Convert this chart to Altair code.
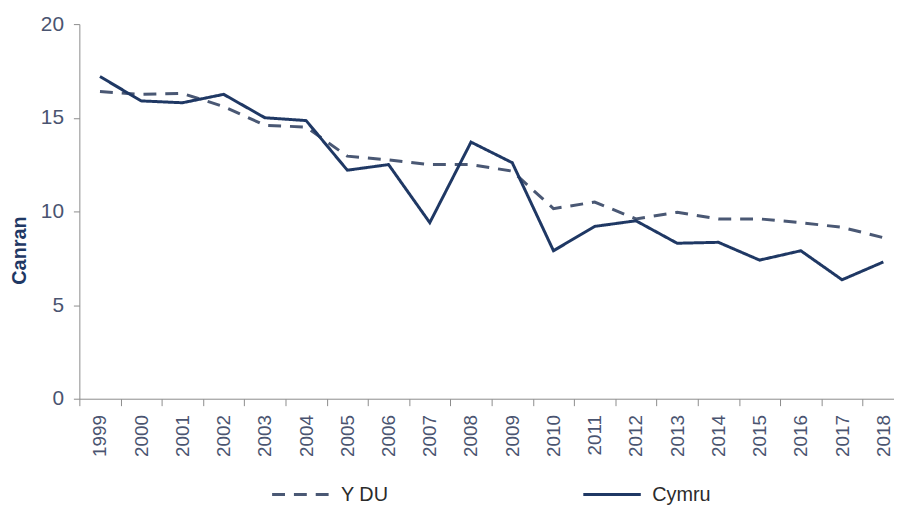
import altair as alt
import pandas as pd

years = ["1999", "2000", "2001", "2002", "2003", "2004", "2005", "2006", "2007", "2008",
         "2009", "2010", "2011", "2012", "2013", "2014", "2015", "2016", "2017", "2018"]
ydu = [16.4, 16.25, 16.3, 15.6, 14.6, 14.5, 12.95, 12.75, 12.5, 12.5,
       12.15, 10.15, 10.5, 9.6, 9.95, 9.6, 9.6, 9.4, 9.15, 8.6]
cymru = [17.2, 15.9, 15.8, 16.25, 15.0, 14.85, 12.2, 12.5, 9.4, 13.7,
         12.6, 7.9, 9.2, 9.5, 8.3, 8.35, 7.4, 7.9, 6.35, 7.3]
series_names = ["Y DU", "Cymru"]
series_colors = ["#4a5874", "#1f3864"]
series_dashes = [[13, 9], [1, 0]]

rows = []
for name, vals in zip(series_names, [ydu, cymru]):
    for yr, v in zip(years, vals):
        rows.append({"Blwyddyn": yr, "Canran": v, "Cyfres": name})
df = pd.DataFrame(rows)

legend = alt.Legend(
    title=None, orient="none", direction="horizontal", legendX=193, legendY=444,
    symbolType="stroke", symbolSize=3364, symbolStrokeWidth=3,
    labelFontSize=20, labelColor="#2b2b2b", labelFont="Liberation Sans",
    labelOffset=10, columnPadding=190,
)

chart = alt.Chart(df).mark_line(strokeWidth=3).encode(
    x=alt.X("Blwyddyn:O", bandPosition=0.5,
            scale=alt.Scale(type="band", range=[0, 832], paddingInner=0, paddingOuter=0),
            axis=alt.Axis(title=None, labelAngle=270, tickBand="extent", tickSize=7,
                          labelPadding=9, labelFontSize=19, labelColor="#4a5470",
                          labelFont="Liberation Sans", domainColor="#8c8c8c",
                          tickColor="#8c8c8c", grid=False)),
    y=alt.Y("Canran:Q", scale=alt.Scale(domain=[0, 20], nice=False),
            axis=alt.Axis(title="Canran", values=[0, 5, 10, 15, 20], tickSize=6,
                          labelPadding=10, labelFontSize=21, labelColor="#4a5470",
                          labelFont="Liberation Sans", domainColor="#8c8c8c",
                          tickColor="#8c8c8c", grid=False,
                          titleFont="Liberation Sans", titleFontSize=20,
                          titleFontWeight="bold", titleColor="#1f3864",
                          titleAngle=270, titleX=-60, titleY=228,
                          titleAlign="center", titleBaseline="middle")),
    color=alt.Color("Cyfres:N", scale=alt.Scale(domain=series_names, range=series_colors),
                    legend=legend),
    strokeDash=alt.StrokeDash("Cyfres:N", scale=alt.Scale(domain=series_names, range=series_dashes),
                              legend=legend),
).properties(
    width=822, height=378,
    autosize=alt.AutoSizeParams(type="none"),
    padding={"left": 72, "top": 14, "right": 0, "bottom": 106},
).configure_view(stroke=None)

chart.save("out.html", embed_options={"renderer": "svg", "actions": False})
